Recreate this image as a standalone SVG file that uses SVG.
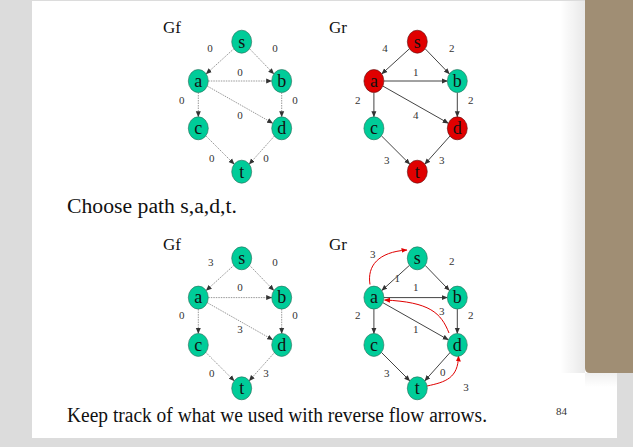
<svg xmlns="http://www.w3.org/2000/svg" width="633" height="447" viewBox="0 0 633 447">
<defs>
<marker id="ah" markerWidth="6" markerHeight="6" refX="5.5" refY="3" orient="auto" markerUnits="userSpaceOnUse"><path d="M0,0.5 L6,3 L0,5.5 Z" fill="#333"/></marker>
<marker id="ahr" markerWidth="6" markerHeight="6" refX="5.5" refY="3" orient="auto" markerUnits="userSpaceOnUse"><path d="M0,0.5 L6,3 L0,5.5 Z" fill="#e00000"/></marker>
<linearGradient id="sh" x1="0" x2="1" y1="0" y2="0"><stop offset="0" stop-color="#000" stop-opacity="0"/><stop offset="1" stop-color="#000" stop-opacity="0.09"/></linearGradient>
<linearGradient id="shb" x1="0" x2="0" y1="0" y2="1"><stop offset="0" stop-color="#000" stop-opacity="0.06"/><stop offset="1" stop-color="#000" stop-opacity="0"/></linearGradient>
<style>
.g{fill:#00cc99;stroke:#2a6a58;stroke-width:0.6}
.r{fill:#e00000;stroke:#5a1010;stroke-width:0.6}
.nl{font-family:"Liberation Serif",serif;font-size:18px;fill:#111;text-anchor:middle}
.el{font-family:"Liberation Serif",serif;font-size:11px;fill:#333;text-anchor:middle}
.ttl{font-family:"Liberation Serif",serif;font-size:17px;fill:#111}
.body{font-family:"Liberation Serif",serif;font-size:20px;fill:#111}
.ed{stroke:#999;stroke-width:1;stroke-dasharray:1.5,1;fill:none;marker-end:url(#ah)}
.es{stroke:#444;stroke-width:1;fill:none;marker-end:url(#ah)}
.er{stroke:#e00000;stroke-width:1;fill:none;marker-end:url(#ahr)}
</style>
</defs>
<rect x="0" y="0" width="633" height="447" fill="#dcdcdc"/>
<rect x="32" y="1" width="585" height="437" fill="#ffffff"/>
<rect x="560" y="1" width="25" height="372" fill="url(#sh)"/>
<rect x="585" y="373" width="32" height="14" fill="url(#shb)"/>
<path d="M585,0 H633 V373 H590 Q585,373 585,368 Z" fill="#a08e74"/>

<text class="ttl" x="163" y="33">Gf</text>
<text class="ttl" x="329" y="33">Gr</text>
<text class="ttl" x="163" y="249.5">Gf</text>
<text class="ttl" x="329" y="249.5">Gr</text>
<text class="body" x="67" y="213" textLength="170" lengthAdjust="spacingAndGlyphs">Choose path s,a,d,t.</text>
<text class="body" x="67" y="422" textLength="420" lengthAdjust="spacingAndGlyphs">Keep track of what we used with reverse flow arrows.</text>
<text class="el" x="561.5" y="415">84</text>

<!-- Connectors -->
<g id="connectors">
<g id="gf1-edges">
<line class="ed" x1="233.8" y1="48.8" x2="206.2" y2="73.9"/>
<line class="ed" x1="249.6" y1="48.8" x2="273.8" y2="73.9"/>
<line class="ed" x1="208.3" y1="81" x2="271.7" y2="81"/>
<line class="ed" x1="198.3" y1="92.5" x2="198.3" y2="116.8"/>
<line class="ed" x1="281.7" y1="92.5" x2="281.7" y2="116.8"/>
<line class="ed" x1="207.3" y1="86.1" x2="272.7" y2="123.2"/>
<line class="ed" x1="205.8" y1="135.8" x2="234.2" y2="164.2"/>
<line class="ed" x1="274.6" y1="135.8" x2="249.2" y2="164.2"/>
</g>
<g id="gr1-edges" transform="translate(175.6,0)">
<line class="es" x1="233.8" y1="48.8" x2="206.2" y2="73.9"/>
<line class="es" x1="249.6" y1="48.8" x2="273.8" y2="73.9"/>
<line class="es" x1="208.3" y1="81" x2="271.7" y2="81"/>
<line class="es" x1="198.3" y1="92.5" x2="198.3" y2="116.8"/>
<line class="es" x1="281.7" y1="92.5" x2="281.7" y2="116.8"/>
<line class="es" x1="207.3" y1="86.1" x2="272.7" y2="123.2"/>
<line class="es" x1="205.8" y1="135.8" x2="234.2" y2="164.2"/>
<line class="es" x1="274.6" y1="135.8" x2="249.2" y2="164.2"/>
</g>
<g id="gf2-edges" transform="translate(0,216.6)">
<line class="ed" x1="233.8" y1="48.8" x2="206.2" y2="73.9"/>
<line class="ed" x1="249.6" y1="48.8" x2="273.8" y2="73.9"/>
<line class="ed" x1="208.3" y1="81" x2="271.7" y2="81"/>
<line class="ed" x1="198.3" y1="92.5" x2="198.3" y2="116.8"/>
<line class="ed" x1="281.7" y1="92.5" x2="281.7" y2="116.8"/>
<line class="ed" x1="207.3" y1="86.1" x2="272.7" y2="123.2"/>
<line class="ed" x1="205.8" y1="135.8" x2="234.2" y2="164.2"/>
<line class="ed" x1="274.6" y1="135.8" x2="249.2" y2="164.2"/>
</g>
<g id="gr2-edges" transform="translate(175.6,216.6)">
<line class="es" x1="233.8" y1="48.8" x2="206.2" y2="73.9"/>
<line class="es" x1="249.6" y1="48.8" x2="273.8" y2="73.9"/>
<line class="es" x1="208.3" y1="81" x2="271.7" y2="81"/>
<line class="es" x1="198.3" y1="92.5" x2="198.3" y2="116.8"/>
<line class="es" x1="281.7" y1="92.5" x2="281.7" y2="116.8"/>
<line class="es" x1="207.3" y1="86.1" x2="272.7" y2="123.2"/>
<line class="es" x1="205.8" y1="135.8" x2="234.2" y2="164.2"/>
<line class="es" x1="274.6" y1="135.8" x2="249.2" y2="164.2"/>
</g>
<g id="gr2-reverse">
<path class="er" d="M370,284.5 C367,266 378,252 407,250"/>
<path class="er" d="M449,333 C441,313 430,302 384.5,300"/>
<path class="er" d="M427,386 C446,382 458,378 458.5,356"/>
</g>
</g>

<!-- Edge labels -->
<g id="labels-gf1">
<text class="el" x="210" y="52">0</text>
<text class="el" x="275" y="52">0</text>
<text class="el" x="240" y="75.5">0</text>
<text class="el" x="181.7" y="104">0</text>
<text class="el" x="295" y="104">0</text>
<text class="el" x="240" y="119">0</text>
<text class="el" x="211.7" y="162">0</text>
<text class="el" x="266" y="162">0</text>
</g>
<g id="labels-gr1">
<text class="el" x="385" y="52">4</text>
<text class="el" x="451.7" y="52">2</text>
<text class="el" x="415.7" y="75.5">1</text>
<text class="el" x="357.7" y="104">2</text>
<text class="el" x="470.7" y="104">2</text>
<text class="el" x="415.7" y="119">4</text>
<text class="el" x="386.7" y="164">3</text>
<text class="el" x="441.7" y="164">3</text>
</g>
<g id="labels-gf2">
<text class="el" x="210.7" y="266">3</text>
<text class="el" x="275" y="266">0</text>
<text class="el" x="240" y="290.5">0</text>
<text class="el" x="181.7" y="319">0</text>
<text class="el" x="295" y="319">0</text>
<text class="el" x="240" y="333">3</text>
<text class="el" x="211.7" y="376.5">0</text>
<text class="el" x="266" y="376.5">3</text>
</g>
<g id="labels-gr2">
<text class="el" x="372.7" y="258">3</text>
<text class="el" x="451.7" y="265">2</text>
<text class="el" x="397.3" y="282">1</text>
<text class="el" x="415.7" y="290.5">1</text>
<text class="el" x="357.7" y="319">2</text>
<text class="el" x="470.7" y="319">2</text>
<text class="el" x="441.7" y="315">3</text>
<text class="el" x="415.7" y="333">1</text>
<text class="el" x="386.7" y="376.5">3</text>
<text class="el" x="442.7" y="375.5">0</text>
<text class="el" x="466" y="390.5">3</text>
</g>

<!-- Nodes: top Gf -->
<g id="gf1-s"><ellipse class="g" cx="241.7" cy="41.7" rx="10" ry="11.5"/><text class="nl" x="241.7" y="47.5">s</text></g>
<g id="gf1-a"><ellipse class="g" cx="198.3" cy="81" rx="10" ry="11.5"/><text class="nl" x="198.3" y="86.8">a</text></g>
<g id="gf1-b"><ellipse class="g" cx="281.7" cy="81" rx="10" ry="11.5"/><text class="nl" x="281.7" y="86.8">b</text></g>
<g id="gf1-c"><ellipse class="g" cx="198.3" cy="128.3" rx="10" ry="11.5"/><text class="nl" x="198.3" y="134.1">c</text></g>
<g id="gf1-d"><ellipse class="g" cx="281.7" cy="128.3" rx="10" ry="11.5"/><text class="nl" x="281.7" y="134.1">d</text></g>
<g id="gf1-t"><ellipse class="g" cx="241.7" cy="171.7" rx="10" ry="11.5"/><text class="nl" x="241.7" y="177.5">t</text></g>
<!-- top Gr -->
<g id="gr1-s"><ellipse class="r" cx="417.3" cy="41.7" rx="10" ry="11.5"/><text class="nl" x="417.3" y="47.5">s</text></g>
<g id="gr1-a"><ellipse class="r" cx="373.9" cy="81" rx="10" ry="11.5"/><text class="nl" x="373.9" y="86.8">a</text></g>
<g id="gr1-b"><ellipse class="g" cx="457.3" cy="81" rx="10" ry="11.5"/><text class="nl" x="457.3" y="86.8">b</text></g>
<g id="gr1-c"><ellipse class="g" cx="373.9" cy="128.3" rx="10" ry="11.5"/><text class="nl" x="373.9" y="134.1">c</text></g>
<g id="gr1-d"><ellipse class="r" cx="457.3" cy="128.3" rx="10" ry="11.5"/><text class="nl" x="457.3" y="134.1">d</text></g>
<g id="gr1-t"><ellipse class="r" cx="417.3" cy="171.7" rx="10" ry="11.5"/><text class="nl" x="417.3" y="177.5">t</text></g>
<!-- bottom Gf -->
<g id="gf2-s"><ellipse class="g" cx="241.7" cy="258.3" rx="10" ry="11.5"/><text class="nl" x="241.7" y="264.1">s</text></g>
<g id="gf2-a"><ellipse class="g" cx="198.3" cy="297.6" rx="10" ry="11.5"/><text class="nl" x="198.3" y="303.4">a</text></g>
<g id="gf2-b"><ellipse class="g" cx="281.7" cy="297.6" rx="10" ry="11.5"/><text class="nl" x="281.7" y="303.4">b</text></g>
<g id="gf2-c"><ellipse class="g" cx="198.3" cy="344.9" rx="10" ry="11.5"/><text class="nl" x="198.3" y="350.7">c</text></g>
<g id="gf2-d"><ellipse class="g" cx="281.7" cy="344.9" rx="10" ry="11.5"/><text class="nl" x="281.7" y="350.7">d</text></g>
<g id="gf2-t"><ellipse class="g" cx="241.7" cy="388.3" rx="10" ry="11.5"/><text class="nl" x="241.7" y="394.1">t</text></g>
<!-- bottom Gr -->
<g id="gr2-s"><ellipse class="g" cx="417.3" cy="258.3" rx="10" ry="11.5"/><text class="nl" x="417.3" y="264.1">s</text></g>
<g id="gr2-a"><ellipse class="g" cx="373.9" cy="297.6" rx="10" ry="11.5"/><text class="nl" x="373.9" y="303.4">a</text></g>
<g id="gr2-b"><ellipse class="g" cx="457.3" cy="297.6" rx="10" ry="11.5"/><text class="nl" x="457.3" y="303.4">b</text></g>
<g id="gr2-c"><ellipse class="g" cx="373.9" cy="344.9" rx="10" ry="11.5"/><text class="nl" x="373.9" y="350.7">c</text></g>
<g id="gr2-d"><ellipse class="g" cx="457.3" cy="344.9" rx="10" ry="11.5"/><text class="nl" x="457.3" y="350.7">d</text></g>
<g id="gr2-t"><ellipse class="g" cx="417.3" cy="388.3" rx="10" ry="11.5"/><text class="nl" x="417.3" y="394.1">t</text></g>
</svg>
